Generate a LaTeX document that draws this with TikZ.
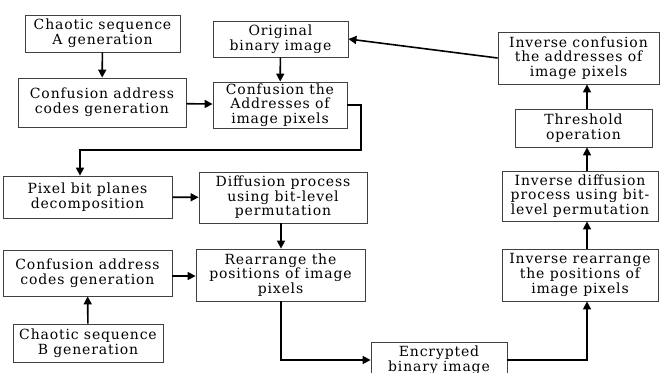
\documentclass[tikz,border=0pt]{standalone}
\usepackage{fontspec}
\setmainfont[LetterSpace=6]{DejaVu Serif}
\usetikzlibrary{arrows.meta,calc}
\begin{document}
\begin{tikzpicture}[x=1pt,y=-1pt,
  box/.style={draw=black!75,line width=0.8pt,align=center,inner sep=0pt,
    font=\fontsize{14}{14.6}\selectfont},
  arr/.style={line width=1.6pt,-{Triangle[length=8pt,width=8pt]}}]
\useasboundingbox[fill=white] (0,0) rectangle (660,372);
\node[box,minimum width=155pt,minimum height=37pt] (b1) at (102.5,33.5) {Chaotic sequence\\A generation};
\node[box,minimum width=168pt,minimum height=49pt] (b2) at (102,102.5) {Confusion address\\codes generation};
\node[box,minimum width=135pt,minimum height=36pt] (b3) at (280.5,39) {Original\\binary image};
\node[box,minimum width=134pt,minimum height=46pt] (b4) at (280,105) {Confusion the\\Addresses of\\image pixels};
\node[box,minimum width=169pt,minimum height=42pt] (b5) at (87.5,197) {Pixel bit planes\\decomposition};
\node[box,minimum width=168pt,minimum height=51pt] (b6) at (283,197.5) {Diffusion process\\using bit-level\\permutation};
\node[box,minimum width=169pt,minimum height=46pt] (b7) at (87.5,273) {Confusion address\\codes generation};
\node[box,minimum width=169pt,minimum height=52pt] (b8) at (280.5,275) {Rearrange the\\positions of image\\pixels};
\node[box,minimum width=150pt,minimum height=38pt] (b9) at (88,343) {Chaotic sequence\\B generation};
\node[box,minimum width=136pt,minimum height=36pt] (b10) at (439,360) {Encrypted\\binary image};
\node[box,minimum width=156pt,minimum height=52pt] (b11) at (580,275) {Inverse rearrange\\the positions of\\image pixels};
\node[box,minimum width=156pt,minimum height=50pt] (b12) at (580,196) {Inverse diffusion\\process using bit-\\level permutation};
\node[box,minimum width=137pt,minimum height=38pt] (b13) at (583.5,128) {Threshold\\operation};
\node[box,minimum width=161pt,minimum height=52pt] (b14) at (578.5,58) {Inverse confusion\\the addresses of\\image pixels};
\coordinate (t1) at (361,105);
\coordinate (t2) at (361,150);
\coordinate (t3) at (80,150);
\coordinate (cx) at (587,0);
\coordinate (mx) at (281,0);
\draw[arr] (b1) -- (b2);
\draw[arr] (b2) -- (b4);
\draw[arr] (b3) -- (b4);
\draw[arr] (b4.east) -- (t1) -- (t2) -- (t3) -- (t3 |- b5.north);
\draw[arr] (b5) -- (b6);
\draw[arr] (mx |- b6.south) -- (mx |- b8.north);
\draw[arr] (b7.east |- 0,276) -- (b8.west |- 0,276);
\draw[arr] (b9) -- (b7);
\draw[arr] (mx |- b8.south) |- (b10.west);
\draw[arr] (b10.east) -| (cx |- b11.south);
\draw[arr] (cx |- b11.north) -- (cx |- b12.south);
\draw[arr] (cx |- b12.north) -- (cx |- b13.south);
\draw[arr] (cx |- b13.north) -- (cx |- b14.south);
\draw[arr] (b14.west) -- (b3.east);
\end{tikzpicture}
\end{document}
